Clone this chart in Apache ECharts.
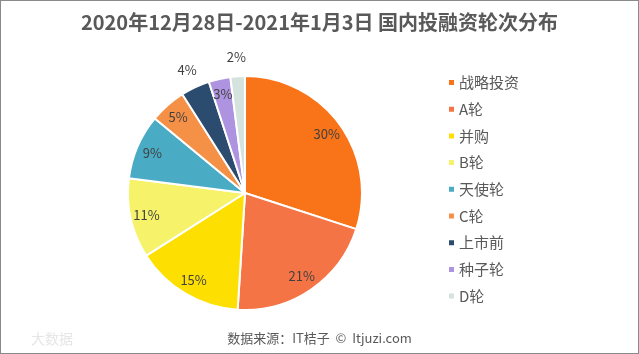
<!DOCTYPE html>
<html>
<head>
<meta charset="utf-8">
<script src="https://cdn.jsdelivr.net/npm/echarts@6/dist/echarts.min.js"></script>
<style>
  html, body { margin: 0; padding: 0; background: #fff; }
  #chart { width: 639px; height: 354px; box-sizing: border-box; border: 1px solid #8a8a8a; }
</style>
</head>
<body>
<div id="chart"></div>
<script>
  const categories = ['战略投资', 'A轮', '并购', 'B轮', '天使轮', 'C轮', '上市前', '种子轮', 'D轮'];
  const shares = [30, 21, 15, 11, 9, 5, 4, 3, 2];
  const colors = ['#F97319', '#F47446', '#FDE002', '#F6F36A', '#4AABC5', '#F59047', '#2B4C6F', '#AE94E0', '#D5E3DE'];
  // these two are labelled outside the pie
  const outsideLabels = ['上市前', 'D轮'];

  const center = [244, 192];
  const labelStyle = { color: '#404040', fontSize: 13, fontFamily: 'Noto Sans CJK SC' };

  const chart = echarts.init(document.getElementById('chart'));

  const option = {
    color: colors,
    title: {
      text: '2020年12月28日-2021年1月3日 国内投融资轮次分布',
      left: 'center',
      top: 6,
      textStyle: { color: '#595959', fontSize: 20, fontWeight: 'bold', fontFamily: 'Noto Sans CJK SC' },
    },
    legend: {
      orient: 'vertical',
      left: 441,
      top: 69,
      itemWidth: 7,
      itemHeight: 7,
      itemGap: 11.7,
      icon: 'rect',
      data: categories,
      textStyle: { color: '#595959', fontSize: 15, fontFamily: 'Noto Sans CJK SC', padding: [0, 0, 0, -1] },
    },
    graphic: [
      {
        type: 'text',
        left: 'center',
        top: 331,
        style: { text: '数据来源：IT桔子  ©  Itjuzi.com', fill: '#595959', font: '13px "Noto Sans CJK SC"' },
      },
      {
        type: 'text',
        left: 30,
        top: 331,
        style: { text: '大数据', fill: '#e6e6e6', font: '14px "Noto Sans CJK SC"' },
      },
    ],
    series: [
      {
        type: 'pie',
        center: center,
        radius: [0, 117],
        startAngle: 90,
        clockwise: true,
        silent: true,
        label: { show: false },
        labelLine: { show: false },
        itemStyle: { borderColor: '#fff', borderWidth: 2 },
        data: categories.map((name, i) => ({ name, value: shares[i] })),
      },
      {
        type: 'pie',
        center: center,
        radius: [80, 116],
        startAngle: 90,
        silent: true,
        legendHoverLink: false,
        itemStyle: { color: 'transparent' },
        label: { position: 'inside', formatter: '{c}%', ...labelStyle },
        data: categories.map((name, i) => ({
          name: name + ' ',
          value: shares[i],
          label: { show: !outsideLabels.includes(name) },
        })),
      },
      {
        type: 'pie',
        center: center,
        radius: [118, 148],
        startAngle: 90,
        silent: true,
        legendHoverLink: false,
        itemStyle: { color: 'transparent' },
        label: { position: 'inside', formatter: '{c}%', ...labelStyle },
        data: categories.map((name, i) => ({
          name: name + '  ',
          value: shares[i],
          label: { show: outsideLabels.includes(name) },
        })),
      },
    ],
  };

  chart.setOption(option);
</script>
</body>
</html>
